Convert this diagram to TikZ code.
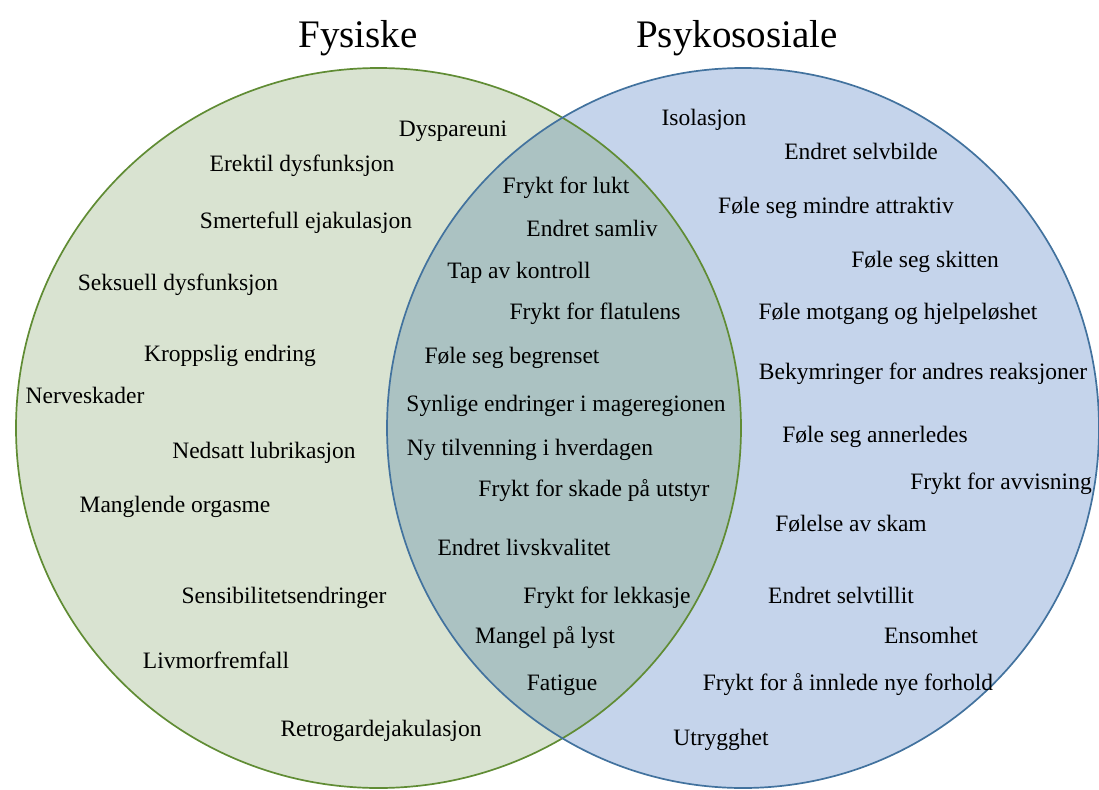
\documentclass[tikz,border=0pt]{standalone}
\usepackage{fontspec}
\setmainfont{Liberation Serif}
\definecolor{sagefill}{RGB}{217,227,209}
\definecolor{sageline}{RGB}{96,140,52}
\definecolor{mistfill}{RGB}{197,212,235}
\definecolor{mistline}{RGB}{66,114,158}
\definecolor{bothfill}{RGB}{171,194,194}
\tikzset{
  item/.style={anchor=base,inner sep=0pt,font=\fontsize{23.5}{28}\selectfont},
  head/.style={anchor=base,inner sep=0pt,font=\fontsize{39}{46}\selectfont},
  ring/.style={line width=1.7pt},
  physshape/.style={x radius=362.5,y radius=360},
  psyshape/.style={x radius=356,y radius=360},
}
\begin{document}
\begin{tikzpicture}[x=1pt,y=-1pt]
  \useasboundingbox (0,0) rectangle (1099,789);
  \clip (0,0) rectangle (1099,789);
  \coordinate (phys) at (378.5,428);
  \coordinate (psy) at (743,428);

  % circles
  \fill[sagefill] (phys) ellipse[physshape];
  \fill[mistfill] (psy) ellipse[psyshape];
  \begin{scope}
    \clip (phys) ellipse[physshape];
    \fill[bothfill] (psy) ellipse[psyshape];
  \end{scope}
  \draw[ring,draw=sageline] (phys) ellipse[physshape];
  \draw[ring,draw=mistline] (psy) ellipse[psyshape];

  % titles
  \node[head] (fysiske) at (358,48) {Fysiske};
  \node[head] (psykososiale) at (737,48) {Psykososiale};

  % fysiske
  \node[item] (dysp) at (453,136) {Dyspareuni};
  \node[item] (erektil) at (302,171) {Erektil dysfunksjon};
  \node[item] (smerte) at (306,228) {Smertefull ejakulasjon};
  \node[item] (seksuell) at (178,290) {Seksuell dysfunksjon};
  \node[item] (kropp) at (230,361) {Kroppslig endring};
  \node[item] (nerve) at (85,403) {Nerveskader};
  \node[item] (lubri) at (264,458) {Nedsatt lubrikasjon};
  \node[item] (orgasme) at (175,512) {Manglende orgasme};
  \node[item] (sensi) at (284,603) {Sensibilitetsendringer};
  \node[item] (livmor) at (216,668) {Livmorfremfall};
  \node[item] (retro) at (381,736) {Retrogardejakulasjon};

  % begge
  \node[item] (lukt) at (566,193) {Frykt for lukt};
  \node[item] (samliv) at (592,236) {Endret samliv};
  \node[item] (kontroll) at (519,278) {Tap av kontroll};
  \node[item] (flatulens) at (595,319) {Frykt for flatulens};
  \node[item] (begrenset) at (512,363) {Føle seg begrenset};
  \node[item] (mage) at (566,411) {Synlige endringer i mageregionen};
  \node[item] (hverdag) at (530,455) {Ny tilvenning i hverdagen};
  \node[item] (utstyr) at (594,496) {Frykt for skade på utstyr};
  \node[item] (livskval) at (524,555) {Endret livskvalitet};
  \node[item] (lekkasje) at (607,603) {Frykt for lekkasje};
  \node[item] (lyst) at (545,643) {Mangel på lyst};
  \node[item] (fatigue) at (562,690) {Fatigue};

  % psykososiale
  \node[item] (isolasjon) at (704,125) {Isolasjon};
  \node[item] (selvbilde) at (861,159) {Endret selvbilde};
  \node[item] (attraktiv) at (836,213) {Føle seg mindre attraktiv};
  \node[item] (skitten) at (925,267) {Føle seg skitten};
  \node[item] (motgang) at (898,319) {Føle motgang og hjelpeløshet};
  \node[item] (bekymring) at (923,379) {Bekymringer for andres reaksjoner};
  \node[item] (annerledes) at (875,442) {Føle seg annerledes};
  \node[item] (avvisning) at (1001,489) {Frykt for avvisning};
  \node[item] (skam) at (851,531) {Følelse av skam};
  \node[item] (selvtillit) at (841,603) {Endret selvtillit};
  \node[item] (ensomhet) at (931,643) {Ensomhet};
  \node[item] (forhold) at (848,690) {Frykt for å innlede nye forhold};
  \node[item] (utrygg) at (721,745) {Utrygghet};
\end{tikzpicture}
\end{document}
